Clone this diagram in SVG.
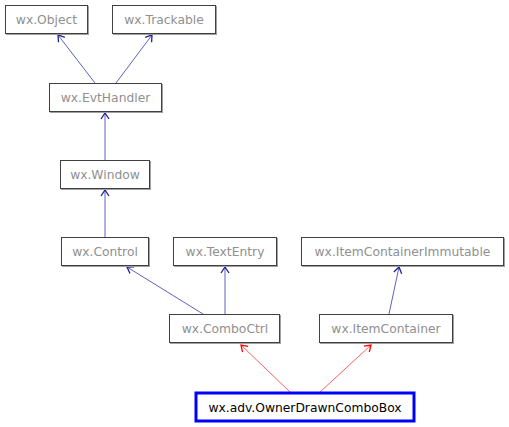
<svg xmlns="http://www.w3.org/2000/svg" width="509" height="427" viewBox="0 0 509 427">
<defs>
<style>
.n rect.s{fill:#a0a0a0;stroke:none}
.n rect.b{fill:#fff;stroke:#404040;stroke-width:1}
.n text{font-family:"DejaVu Sans",sans-serif;font-size:12.3px;fill:#909090;text-anchor:middle}
.e{fill:none;stroke:#6060c0;stroke-width:1}
.r{fill:none;stroke:#ff6060;stroke-width:1}
</style>
<marker id="ab" markerWidth="10" markerHeight="10" refX="9" refY="5" orient="auto" markerUnits="userSpaceOnUse">
<path d="M3,1 L9,5 L3,9" fill="none" stroke="#202090" stroke-width="1.3"/>
</marker>
<marker id="ar" markerWidth="10" markerHeight="10" refX="9" refY="5" orient="auto" markerUnits="userSpaceOnUse">
<path d="M3,1 L9,5 L3,9" fill="none" stroke="#ff0000" stroke-width="1.3"/>
</marker>
</defs>
<rect width="509" height="427" fill="#fff"/>
<g id="edges">
<line class="e" x1="95" y1="83" x2="58" y2="35" marker-end="url(#ab)"/>
<line class="e" x1="116" y1="83" x2="152" y2="35" marker-end="url(#ab)"/>
<line class="e" x1="105" y1="160" x2="105" y2="113" marker-end="url(#ab)"/>
<line class="e" x1="105" y1="237" x2="105" y2="190" marker-end="url(#ab)"/>
<line class="e" x1="203" y1="314" x2="127" y2="267" marker-end="url(#ab)"/>
<line class="e" x1="225" y1="314" x2="225" y2="267" marker-end="url(#ab)"/>
<line class="e" x1="389" y1="314" x2="399" y2="267" marker-end="url(#ab)"/>
<line class="r" x1="290" y1="392" x2="241" y2="345" marker-end="url(#ar)"/>
<line class="r" x1="320" y1="392" x2="371" y2="345" marker-end="url(#ar)"/>
</g>
<g id="wxObject" class="n"><rect class="s" x="6" y="6" width="83" height="29"/><rect class="b" x="5.5" y="5.5" width="82" height="28"/><text x="46.5" y="24">wx.Object</text></g>
<g id="wxTrackable" class="n"><rect class="s" x="113" y="6" width="104" height="29"/><rect class="b" x="112.5" y="5.5" width="103" height="28"/><text x="164" y="24">wx.Trackable</text></g>
<g id="wxEvtHandler" class="n"><rect class="s" x="50" y="84" width="113" height="29"/><rect class="b" x="49.5" y="83.5" width="112" height="28"/><text x="105.5" y="102">wx.EvtHandler</text></g>
<g id="wxWindow" class="n"><rect class="s" x="61" y="161" width="90" height="29"/><rect class="b" x="60.5" y="160.5" width="89" height="28"/><text x="105" y="179">wx.Window</text></g>
<g id="wxControl" class="n"><rect class="s" x="62" y="238" width="88" height="29"/><rect class="b" x="61.5" y="237.5" width="87" height="28"/><text x="105" y="256">wx.Control</text></g>
<g id="wxTextEntry" class="n"><rect class="s" x="174" y="238" width="104" height="29"/><rect class="b" x="173.5" y="237.5" width="103" height="28"/><text x="225" y="256">wx.TextEntry</text></g>
<g id="wxItemContainerImmutable" class="n"><rect class="s" x="302" y="238" width="203" height="29"/><rect class="b" x="301.5" y="237.5" width="202" height="28"/><text x="402.5" y="256">wx.ItemContainerImmutable</text></g>
<g id="wxComboCtrl" class="n"><rect class="s" x="170" y="315" width="111" height="29"/><rect class="b" x="169.5" y="314.5" width="110" height="28"/><text x="225" y="333">wx.ComboCtrl</text></g>
<g id="wxItemContainer" class="n"><rect class="s" x="320" y="315" width="134" height="29"/><rect class="b" x="319.5" y="314.5" width="133" height="28"/><text x="386" y="333">wx.ItemContainer</text></g>
<g id="wxadvOwnerDrawnComboBox" class="n"><rect x="196" y="393" width="218" height="28" fill="#fff" stroke="#0000ff" stroke-width="3"/><text x="305" y="412" style="fill:#000">wx.adv.OwnerDrawnComboBox</text></g>
</svg>
